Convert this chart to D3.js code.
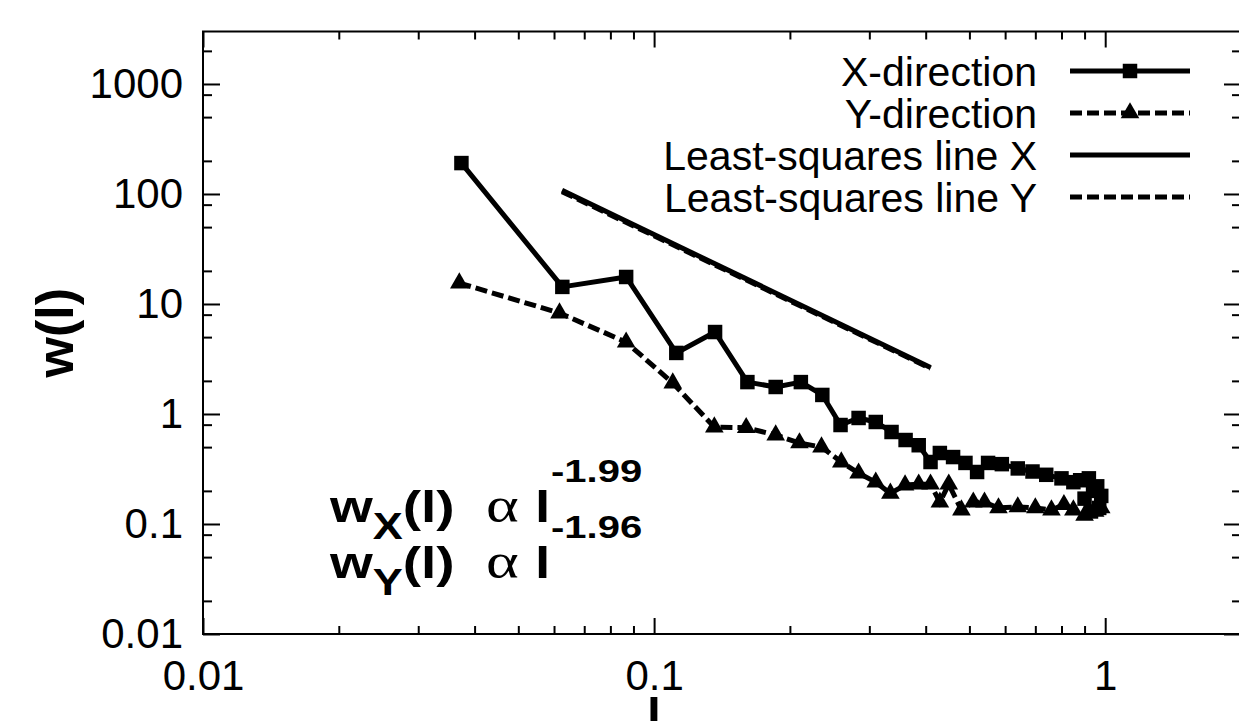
<!DOCTYPE html>
<html>
<head>
<meta charset="utf-8">
<script src="https://cdn.jsdelivr.net/npm/d3@7"></script>
<style>
  body { margin: 0; background: #fff; }
  svg { display: block; font-family: "Liberation Sans", Arial, sans-serif; }
</style>
</head>
<body>
<script>
//data (l values and w(l) values)
var xDirL = [0.0374, 0.0626, 0.0867, 0.112, 0.1365, 0.161, 0.186, 0.2115, 0.236, 0.259, 0.284, 0.31, 0.336, 0.361, 0.386, 0.41, 0.43, 0.46, 0.49, 0.52, 0.55, 0.59, 0.64, 0.69, 0.74, 0.80, 0.85, 0.88, 0.92, 0.96, 0.98, 0.97, 0.93, 0.90, 0.94];
var xDirW = [191, 14.3, 17.6, 3.59, 5.56, 1.95, 1.76, 1.95, 1.49, 0.794, 0.92, 0.846, 0.686, 0.58, 0.52, 0.366, 0.442, 0.406, 0.359, 0.297, 0.359, 0.35, 0.32, 0.30, 0.28, 0.26, 0.24, 0.25, 0.26, 0.22, 0.18, 0.14, 0.13, 0.17, 0.2];

var yDirL = [0.037, 0.0617, 0.0867, 0.11, 0.136, 0.16, 0.186, 0.21, 0.235, 0.26, 0.284, 0.31, 0.334, 0.36, 0.386, 0.41, 0.43, 0.45, 0.48, 0.51, 0.54, 0.58, 0.64, 0.70, 0.76, 0.81, 0.85, 0.90, 0.95, 0.98];
var yDirW = [15.5, 8.28, 4.5, 1.91, 0.76, 0.75, 0.644, 0.545, 0.50, 0.366, 0.29, 0.24, 0.19, 0.226, 0.23, 0.23, 0.158, 0.23, 0.134, 0.158, 0.158, 0.14, 0.143, 0.14, 0.134, 0.15, 0.134, 0.12, 0.13, 0.14];

//least-squares lines, just the two end points
var lsXL = [0.0625, 0.41];
var lsXW = [108, 2.65];
var lsYL = [0.0625, 0.41];
var lsYW = [105, 2.6];

//tick values
var xMajor = [0.01, 0.1, 1];
var yMajor = [0.01, 0.1, 1, 10, 100, 1000];
var xMinorMult = [2, 3, 4, 5, 6, 7, 8, 9];
var yMinorMult = [2, 5, 8];

var legendNames = ["X-direction", "Y-direction", "Least-squares line X", "Least-squares line Y"];

//fit results written inside the plot
var fitSubs = ["X", "Y"];
var fitExps = ["-1.99", "-1.96"];

window.onload = function(){

    var w = 1239, h = 721;
    var left = 203, right = 1241, top = 31.5, bottom = 634;

    var svg = d3.select("body")
        .append("svg")
        .attr("width", w)
        .attr("height", h);

    var x = d3.scaleLog().domain([0.01, 2]).range([left, right]);
    var y = d3.scaleLog().domain([0.01, 3000]).range([bottom, top]);

    //build minor tick lists from the multipliers
    var xMinor = [];
    [0.01, 0.1, 1].forEach(function(d){
        xMinorMult.forEach(function(m){
            var v = d * m;
            if (v < 2) xMinor.push(v);
        });
    });
    var yMinor = [];
    [0.01, 0.1, 1, 10, 100, 1000].forEach(function(d){
        yMinorMult.forEach(function(m){
            if (d * m < 3000) yMinor.push(d * m);
        });
    });

    var fmt = function(d){ return String(+d.toPrecision(3)); };

    //bottom axis, major + minor
    svg.append("g").attr("class", "axis")
        .attr("transform", "translate(0," + bottom + ")")
        .call(d3.axisBottom(x).tickValues(xMajor).tickFormat(fmt).tickSizeInner(-16).tickSizeOuter(0).tickPadding(26));
    svg.append("g").attr("class", "axis minor")
        .attr("transform", "translate(0," + bottom + ")")
        .call(d3.axisBottom(x).tickValues(xMinor).tickFormat("").tickSizeInner(-8).tickSizeOuter(0));
    //top axis mirror
    svg.append("g").attr("class", "axis")
        .attr("transform", "translate(0," + top + ")")
        .call(d3.axisTop(x).tickValues(xMajor).tickFormat("").tickSizeInner(-16).tickSizeOuter(0));
    svg.append("g").attr("class", "axis minor")
        .attr("transform", "translate(0," + top + ")")
        .call(d3.axisTop(x).tickValues(xMinor).tickFormat("").tickSizeInner(-8).tickSizeOuter(0));

    //left axis
    svg.append("g").attr("class", "axis")
        .attr("transform", "translate(" + left + ",0)")
        .call(d3.axisLeft(y).tickValues(yMajor).tickFormat(fmt).tickSizeInner(-17).tickSizeOuter(0).tickPadding(20));
    svg.append("g").attr("class", "axis minor")
        .attr("transform", "translate(" + left + ",0)")
        .call(d3.axisLeft(y).tickValues(yMinor).tickFormat("").tickSizeInner(-9).tickSizeOuter(0));
    //right axis mirror
    svg.append("g").attr("class", "axis")
        .attr("transform", "translate(" + right + ",0)")
        .call(d3.axisRight(y).tickValues(yMajor).tickFormat("").tickSizeInner(-17).tickSizeOuter(0));
    svg.append("g").attr("class", "axis minor")
        .attr("transform", "translate(" + right + ",0)")
        .call(d3.axisRight(y).tickValues(yMinor).tickFormat("").tickSizeInner(-9).tickSizeOuter(0));

    svg.selectAll(".axis path").remove();
    svg.selectAll(".axis line").attr("stroke", "#000").attr("stroke-width", 2);
    svg.selectAll(".axis text")
        .attr("fill", "#000")
        .style("font-family", "'Liberation Sans', Arial, sans-serif")
        .style("font-size", "42px");

    //frame
    svg.append("rect")
        .attr("x", left).attr("y", top)
        .attr("width", right - left).attr("height", bottom - top)
        .attr("fill", "none").attr("stroke", "#000").attr("stroke-width", 2);

    //axis titles
    svg.append("text")
        .attr("transform", "translate(73," + ((top + bottom) / 2) + ") rotate(-90)")
        .attr("text-anchor", "middle")
        .style("font-size", "52px").style("font-weight", "bold")
        .text("w(l)");
    //the reference cuts this one off at the bottom edge
    svg.append("text")
        .attr("x", 654).attr("y", 733)
        .attr("text-anchor", "middle")
        .style("font-size", "50px").style("font-weight", "bold")
        .text("l");

    var line = d3.line()
        .x(function(d){ return x(d[0]); })
        .y(function(d){ return y(d[1]); });

    var xPts = d3.zip(xDirL, xDirW);
    var yPts = d3.zip(yDirL, yDirW);

    //least-squares lines
    svg.append("path").datum(d3.zip(lsXL, lsXW))
        .attr("d", line).attr("fill", "none")
        .attr("stroke", "#000").attr("stroke-width", 5);
    svg.append("path").datum(d3.zip(lsYL, lsYW))
        .attr("d", line).attr("fill", "none")
        .attr("stroke", "#000").attr("stroke-width", 5)
        .attr("stroke-dasharray", "12,5");

    //data lines
    svg.append("path").datum(xPts)
        .attr("d", line).attr("fill", "none")
        .attr("stroke", "#000").attr("stroke-width", 5)
        .attr("stroke-linejoin", "round");
    svg.append("path").datum(yPts)
        .attr("d", line).attr("fill", "none")
        .attr("stroke", "#000").attr("stroke-width", 5)
        .attr("stroke-dasharray", "12,5");

    var square = d3.symbol().type(d3.symbolSquare).size(210);
    var tri = d3.symbol().type(d3.symbolTriangle).size(150);

    svg.selectAll(".sq")
        .data(xPts).enter()
        .append("path").attr("class", "sq")
        .attr("d", square)
        .attr("transform", function(d){ return "translate(" + x(d[0]) + "," + y(d[1]) + ")"; })
        .attr("fill", "#000");
    svg.selectAll(".tri")
        .data(yPts).enter()
        .append("path").attr("class", "tri")
        .attr("d", tri)
        .attr("transform", function(d){ return "translate(" + x(d[0]) + "," + y(d[1]) + ")"; })
        .attr("fill", "#000");

    //legend
    var legend = svg.append("g").attr("class", "legend");
    var rowY = [71, 113, 155, 197];
    legend.selectAll("text")
        .data(legendNames).enter()
        .append("text")
        .attr("x", 1037)
        .attr("y", function(d, i){ return rowY[i]; })
        .attr("dy", "0.36em")
        .attr("text-anchor", "end")
        .style("font-size", "41px")
        .text(function(d){ return d; });
    legendNames.forEach(function(d, i){
        var l = legend.append("line")
            .attr("x1", 1070).attr("x2", 1190)
            .attr("y1", rowY[i]).attr("y2", rowY[i])
            .attr("stroke", "#000").attr("stroke-width", 5);
        if (i % 2 == 1) l.attr("stroke-dasharray", "12,5");
    });
    legend.append("path").attr("d", square)
        .attr("transform", "translate(1130," + rowY[0] + ")");
    legend.append("path").attr("d", tri)
        .attr("transform", "translate(1130," + rowY[1] + ")");

    //fit exponents written in the plot (text is a bit wide in the original, so stretch it)
    var sx = 1.25;
    var baseY = [522, 578];
    fitSubs.forEach(function(s, i){
        var t = svg.append("text")
            .attr("transform", "scale(" + sx + ",1)")
            .attr("y", baseY[i])
            .style("font-size", "44px").style("font-weight", "bold");
        t.append("tspan").attr("x", 330 / sx).text("w");
        t.append("tspan").attr("dy", 17).style("font-size", "36px").text(s);
        t.append("tspan").attr("dy", -17).text("(l)");
        t.append("tspan").attr("x", 486 / sx)
            .style("font-family", "'Liberation Serif', serif")
            .style("font-weight", "normal").style("font-size", "50px").text("α");
        t.append("tspan").attr("x", 535 / sx).text("l");
        t.append("tspan").attr("x", 551 / sx).attr("dy", -40).style("font-size", "32px").text(fitExps[i]);
    });
};
</script>
</body>
</html>
